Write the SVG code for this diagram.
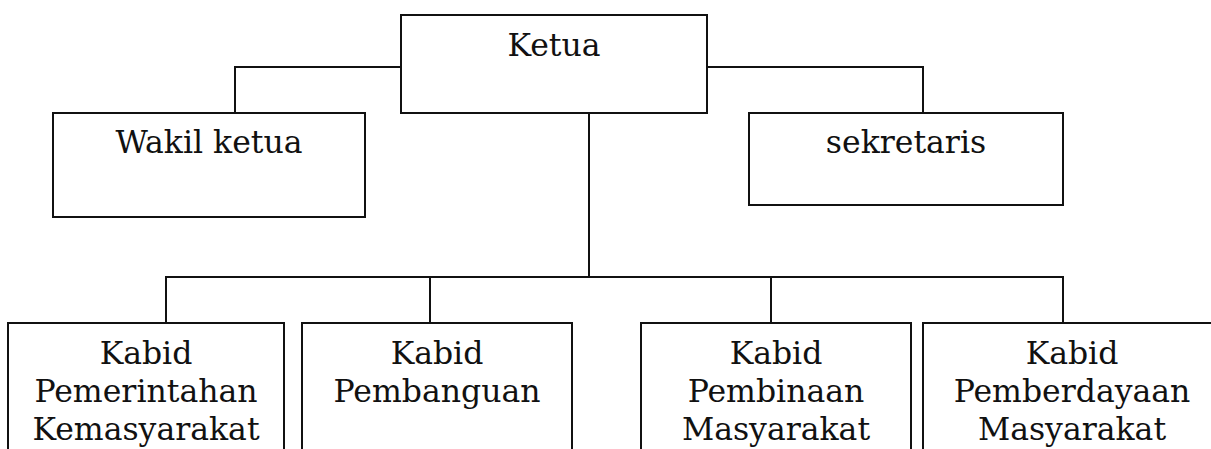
<svg xmlns="http://www.w3.org/2000/svg" width="1211" height="449" viewBox="0 0 1211 449">
<style>
.box{fill:#fff;stroke:#111;stroke-width:2}
.ln{fill:none;stroke:#111;stroke-width:2}
text{font-family:"DejaVu Serif","Liberation Serif",serif;font-size:31.5px;fill:#111;text-anchor:middle}
</style>
<rect width="1211" height="449" fill="#fff"/>
<g id="connectors">
<path class="ln" d="M235 113V67H401M707 67H923V113"/>
<path class="ln" d="M589 113V277M166 323V277H1063V323M430 277V332M771 277V323"/>
</g>
<g id="ketua"><rect class="box" x="401" y="15" width="306" height="98"/><text x="554" y="56">Ketua</text></g>
<g id="wakil"><rect class="box" x="53" y="113" width="312" height="104"/><text x="209" y="153">Wakil ketua</text></g>
<g id="sekretaris"><rect class="box" x="749" y="113" width="314" height="92"/><text x="906" y="153">sekretaris</text></g>
<g id="kabid1"><rect class="box" x="8" y="323" width="276" height="140"/><text x="146" y="364">Kabid</text><text x="146" y="402">Pemerintahan</text><text x="146" y="440">Kemasyarakat</text></g>
<g id="kabid2"><rect class="box" x="302" y="323" width="270" height="140"/><text x="437" y="364">Kabid</text><text x="437" y="402">Pembanguan</text></g>
<g id="kabid3"><rect class="box" x="641" y="323" width="270" height="140"/><text x="776" y="364">Kabid</text><text x="776" y="402">Pembinaan</text><text x="776" y="440">Masyarakat</text></g>
<g id="kabid4"><rect class="box" x="923" y="323" width="298" height="140"/><text x="1072" y="364">Kabid</text><text x="1072" y="402">Pemberdayaan</text><text x="1072" y="440">Masyarakat</text></g>
</svg>
